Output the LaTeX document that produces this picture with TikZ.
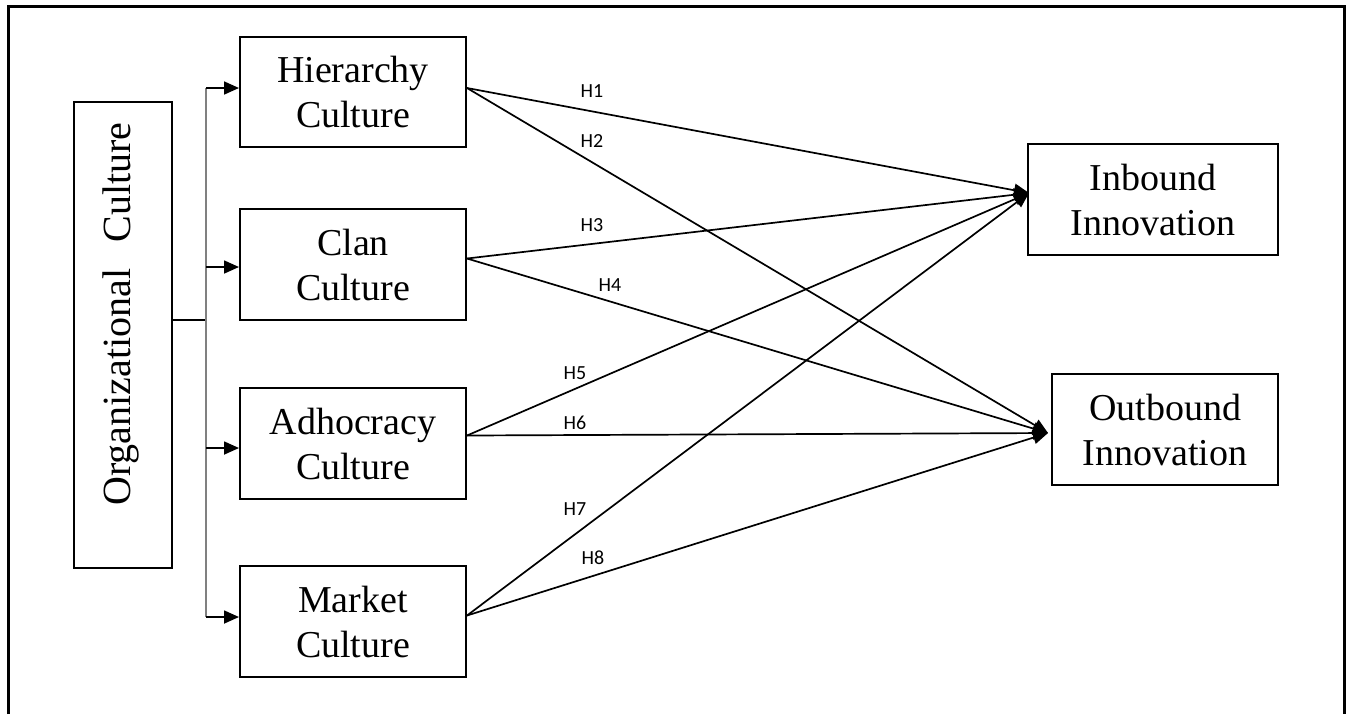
\documentclass[tikz,border=0pt]{standalone}
\usepackage{fontspec}
\setmainfont{Liberation Serif}
\newfontfamily\labfont{Carlito}
\usetikzlibrary{arrows.meta,calc}
\begin{document}
\begin{tikzpicture}[x=0.5pt,y=-0.5pt,
  box/.style={draw,line width=1pt,inner sep=0pt,align=center,
    font=\fontsize{19}{22.5}\selectfont},
  conn/.style={line width=0.85pt,-{Triangle[length=7.5pt,width=6.5pt]}},
  hlab/.style={font=\labfont\fontsize{10}{12}\selectfont,inner sep=0pt},
  bus/.style={line width=1.1pt,draw=black!50}]
\useasboundingbox (0,0) rectangle (1347,714);
\draw[line width=1.5pt] (8,714) -- (8,6) -- (1344,6) -- (1344,714);
% nodes
\node[box,minimum width=49pt,minimum height=233pt] (org) at (123,335) {};
\node[rotate=90,font=\fontsize{20}{24}\selectfont,inner sep=0pt] (orgt) at (121,314) {Organizational\hspace{0.4em} Culture};
\node[box,minimum width=113pt,minimum height=55pt] (hier) at (353,92) {Hierarchy\\Culture};
\node[box,minimum width=113pt,minimum height=55.5pt] (clan) at (353,264.5) {Clan\\Culture};
\node[box,minimum width=113pt,minimum height=55.5pt] (adh) at (353,443.5) {Adhocracy\\Culture};
\node[box,minimum width=113pt,minimum height=55.5pt] (mkt) at (353,621.5) {Market\\Culture};
\node[box,minimum width=125pt,minimum height=55.5pt] (inb) at (1153,199.5) {Inbound\\Innovation};
\node[box,minimum width=113pt,minimum height=55.5pt] (outb) at (1165,429.5) {Outbound\\Innovation};
% bus
\coordinate (bj) at (206,320);
\coordinate (bt) at (206,88);
\coordinate (bb) at (206,617);
\draw[bus,draw=black] (org.east |- bj) -- (bj);
\draw[bus] (bt) -- (bb);
\draw[conn] (bt) -- (hier.west |- bt);
\draw[conn] (206,267) coordinate (b2) -- (clan.west |- b2);
\draw[conn] (206,448) coordinate (b3) -- (adh.west |- b3);
\draw[conn] (bb) -- (mkt.west |- bb);
% sources and targets
\coordinate (s1) at ($(hier.east)+(0,-4)$);
\coordinate (s2) at ($(clan.east)+(0,-6)$);
\coordinate (s3) at ($(adh.east)+(0,-8)$);
\coordinate (s4) at ($(mkt.east)+(0,-6)$);
\coordinate (ti) at ($(inb.west)+(2,-6.5)$);
\coordinate (to) at ($(outb.west)+(-3,3.5)$);
\draw[conn] (s1) -- (ti);
\draw[conn] (s1) -- (to);
\draw[conn] (s2) -- (ti);
\draw[conn] (s2) -- (to);
\draw[conn] (s3) -- (ti);
\draw[conn] (s3) -- (to);
\draw[conn] (s4) -- (ti);
\draw[conn] (s4) -- (to);
% labels
\node[hlab] (h1) at (592,91) {H1};
\node[hlab] (h2) at (592,141) {H2};
\node[hlab] (h3) at (592,225) {H3};
\node[hlab] (h4) at (610,285) {H4};
\node[hlab] (h5) at (575,373) {H5};
\node[hlab] (h6) at (575,423) {H6};
\node[hlab] (h7) at (575,509) {H7};
\node[hlab] (h8) at (593,558) {H8};
\end{tikzpicture}
\end{document}
